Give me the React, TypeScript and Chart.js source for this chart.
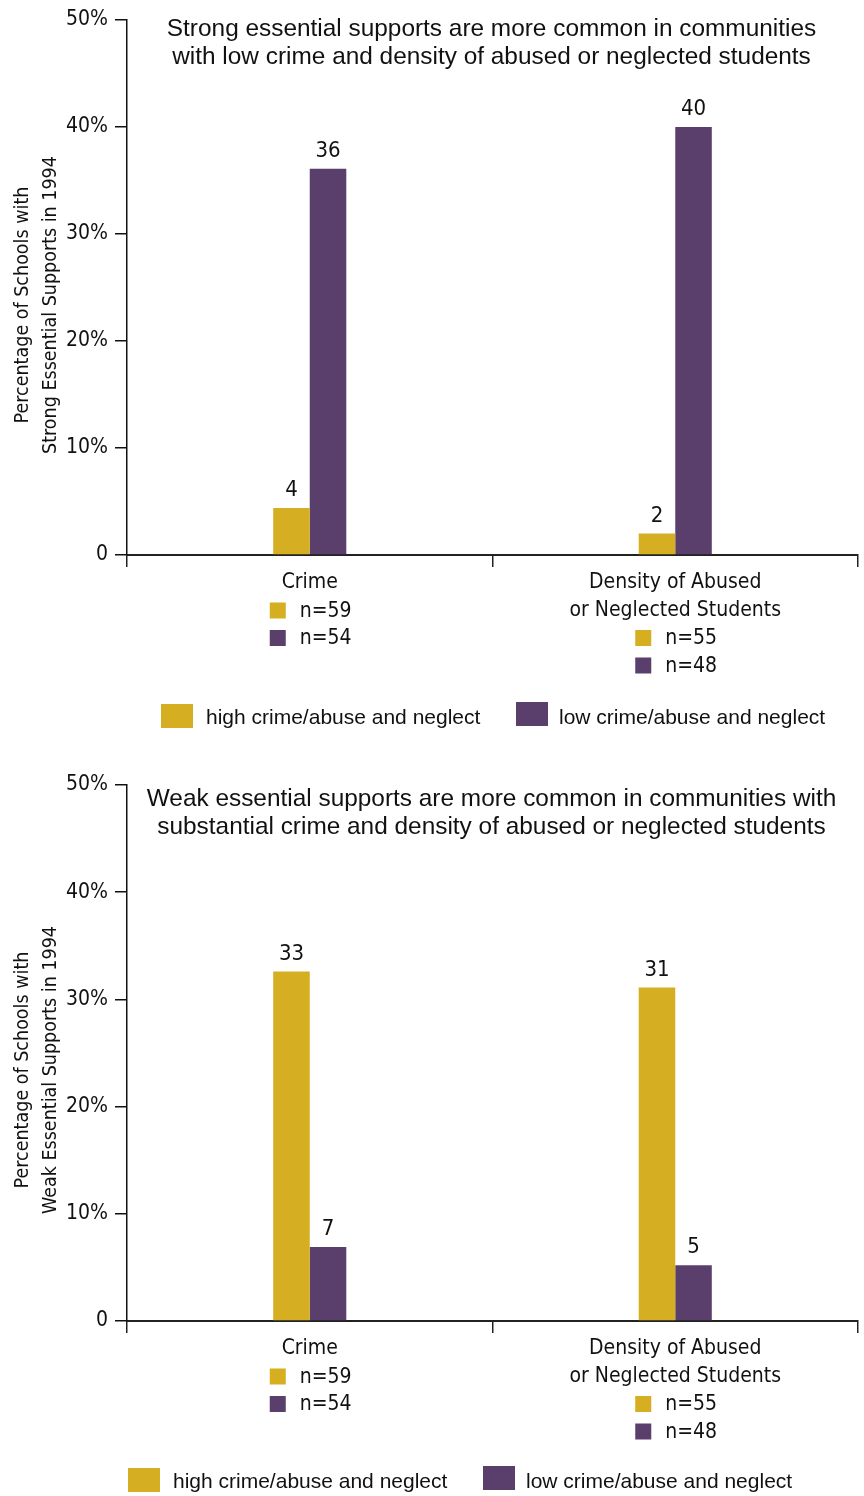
import React, { useEffect, useRef } from "react";
import { Chart, registerables } from "chart.js";

Chart.register(...registerables);

// ---------- DATA ----------
const categoryLines: string[][] = [["Crime"], ["Density of Abused", "or Neglected Students"]];
const highN = ["n=59", "n=55"];
const lowN = ["n=54", "n=48"];
const seriesNames = ["high crime/abuse and neglect", "low crime/abuse and neglect"];

const strongHigh = [4.4, 2.0];
const strongLow = [36.1, 40.0];
const weakHigh = [32.6, 31.1];
const weakLow = [6.9, 5.2];

const yTickValues = [0, 10, 20, 30, 40, 50];

const strongTitle = [
  "Strong essential supports are more common in communities",
  "with low crime and density of abused or neglected students",
];
const weakTitle = [
  "Weak essential supports are more common in communities with",
  "substantial crime and density of abused or neglected students",
];
const strongYTitle = ["Percentage of Schools with", "Strong Essential Supports in 1994"];
const weakYTitle = ["Percentage of Schools with", "Weak Essential Supports in 1994"];

// ---------- STYLE ----------
const YELLOW = "#D5AE21";
const PURPLE = "#5A3F6C";
const NARROW = "'Liberation Sans Narrow', 'DejaVu Sans Condensed', sans-serif";
const SANS = "'Liberation Sans', Arial, sans-serif";

type Cfg = {
  high: number[];
  low: number[];
  title: string[];
  yTitle: string[];
  height: number;
  xAxisHeight: number;
  titleY: number;
  legendDY: number;
  legendDX: number;
};

function makePlugin(cfg: Cfg) {
  return {
    id: "custom" + cfg.titleY,
    afterDraw(chart: any) {
      const ctx: CanvasRenderingContext2D = chart.ctx;
      const area = chart.chartArea;
      const xScale = chart.scales.x;
      ctx.save();
      ctx.fillStyle = "#111";

      // title inside plot
      ctx.font = `24.4px ${SANS}`;
      ctx.textAlign = "center";
      ctx.textBaseline = "middle";
      const cx = (area.left + area.right) / 2 - 1;
      cfg.title.forEach((t, i) => ctx.fillText(t, cx, cfg.titleY + i * 28.5));

      // y axis title
      ctx.save();
      ctx.translate(37, 305);
      ctx.rotate(-Math.PI / 2);
      ctx.font = `19.5px ${NARROW}`;
      ctx.textAlign = "center";
      ctx.textBaseline = "middle";
      cfg.yTitle.forEach((t, i) => ctx.fillText(t, 0, -14 + i * 28));
      ctx.restore();

      // data labels
      ctx.font = `22px ${NARROW}`;
      ctx.textAlign = "center";
      ctx.textBaseline = "alphabetic";
      chart.data.datasets.forEach((ds: any, di: number) => {
        const meta = chart.getDatasetMeta(di);
        meta.data.forEach((bar: any, i: number) => {
          ctx.fillText(String(Math.round(ds.data[i])), bar.x, bar.y - 12);
        });
      });

      // x category labels with n markers
      const base = area.bottom;
      categoryLines.forEach((lines, i) => {
        const x = xScale.getPixelForValue(i);
        ctx.font = `21px ${NARROW}`;
        ctx.textAlign = "center";
        ctx.textBaseline = "middle";
        lines.forEach((l, li) => ctx.fillText(l, x, base + 28 + li * 27.5));
        const startY = base + 28 + lines.length * 27.5;
        [highN[i], lowN[i]].forEach((n, ni) => {
          const y = startY + ni * 27.5;
          ctx.fillStyle = ni === 0 ? YELLOW : PURPLE;
          ctx.fillRect(x - 40, y - 8, 16, 16);
          ctx.fillStyle = "#111";
          ctx.textAlign = "left";
          ctx.fillText(n, x - 10, y + 1);
          ctx.textAlign = "center";
        });
      });

      // legend
      const ly = base + cfg.legendDY;
      const dx = cfg.legendDX;
      ctx.font = `21px ${SANS}`;
      ctx.textAlign = "left";
      ctx.textBaseline = "middle";
      ctx.fillStyle = YELLOW;
      ctx.fillRect(161 + dx, ly - 12, 32, 24);
      ctx.fillStyle = "#111";
      ctx.fillText(seriesNames[0], 206 + dx, ly + 2);
      ctx.fillStyle = PURPLE;
      ctx.fillRect(516 + dx, ly - 14, 32, 24);
      ctx.fillStyle = "#111";
      ctx.fillText(seriesNames[1], 559 + dx, ly + 2);

      ctx.restore();
    },
  };
}

function BarPanel({ cfg }: { cfg: Cfg }) {
  const ref = useRef<HTMLCanvasElement | null>(null);
  useEffect(() => {
    if (!ref.current) return;
    const chart = new Chart(ref.current, {
      type: "bar",
      data: {
        labels: categoryLines.map((l) => l.join(" ")),
        datasets: [
          {
            label: seriesNames[0],
            data: cfg.high,
            backgroundColor: YELLOW,
            categoryPercentage: 0.2,
            barPercentage: 1,
          },
          {
            label: seriesNames[1],
            data: cfg.low,
            backgroundColor: PURPLE,
            categoryPercentage: 0.2,
            barPercentage: 1,
          },
        ],
      },
      options: {
        animation: false,
        responsive: false,
        devicePixelRatio: 1,
        layout: { padding: { top: 20, right: 6, left: 0, bottom: 0 } },
        plugins: { legend: { display: false }, tooltip: { enabled: false }, title: { display: false } },
        scales: {
          x: {
            grid: { offset: true, drawOnChartArea: false, tickLength: 12, color: "#222", lineWidth: 1.5 },
            border: { color: "#222", width: 2 },
            ticks: { display: false },
            afterFit: (s: any) => {
              s.height = cfg.xAxisHeight;
            },
          },
          y: {
            min: 0,
            max: 50,
            afterBuildTicks: (s: any) => {
              s.ticks = yTickValues.map((v) => ({ value: v }));
            },
            ticks: {
              callback: (v: any) => (Number(v) === 0 ? "0" : `${v}%`),
              font: { family: NARROW, size: 21 },
              color: "#111",
              padding: 7,
            },
            grid: { drawOnChartArea: false, tickLength: 12, color: "#111", lineWidth: 1.5 },
            border: { color: "#111", width: 1.5 },
            afterFit: (s: any) => {
              s.width = 127;
            },
          },
        },
      },
      plugins: [makePlugin(cfg)],
    } as any);
    return () => chart.destroy();
  }, [cfg]);
  return <canvas ref={ref} width={864} height={cfg.height} style={{ display: "block" }} />;
}

const strongCfg: Cfg = {
  high: strongHigh,
  low: strongLow,
  title: strongTitle,
  yTitle: strongYTitle,
  height: 765,
  xAxisHeight: 210,
  titleY: 29,
  legendDY: 161,
  legendDX: 0,
};
const weakCfg: Cfg = {
  high: weakHigh,
  low: weakLow,
  title: weakTitle,
  yTitle: weakYTitle,
  height: 731,
  xAxisHeight: 175,
  titleY: 34,
  legendDY: 159,
  legendDX: -33,
};

export default function App() {
  return (
    <div style={{ position: "absolute", top: 0, left: 0, width: 864, height: 1496, background: "#fff" }}>
      <BarPanel cfg={strongCfg} />
      <BarPanel cfg={weakCfg} />
    </div>
  );
}
